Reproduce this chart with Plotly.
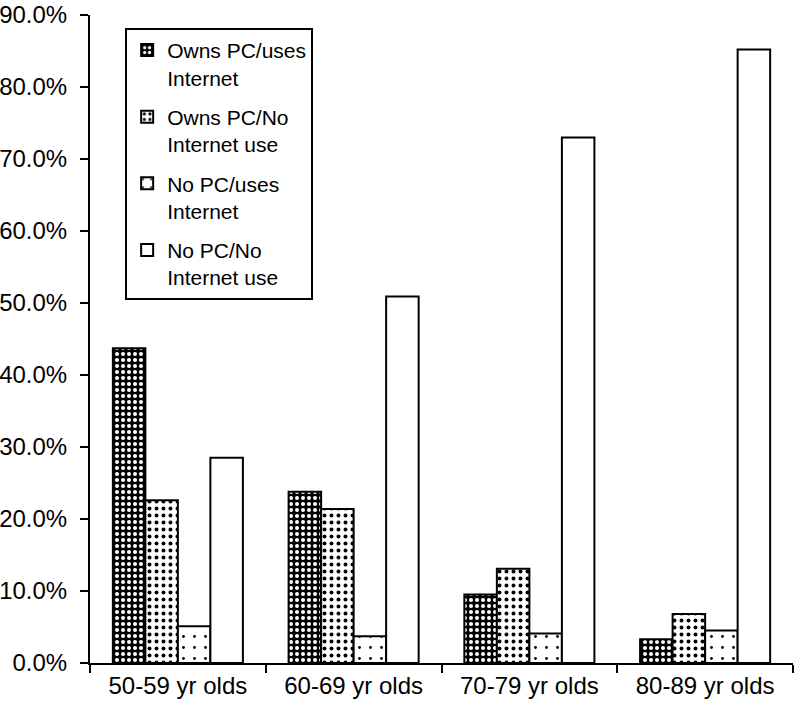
import plotly.graph_objects as go

categories = ["50-59 yr olds", "60-69 yr olds", "70-79 yr olds", "80-89 yr olds"]
series_names = ["Owns PC/uses<br>Internet", "Owns PC/No<br>Internet use",
                "No PC/uses<br>Internet", "No PC/No<br>Internet use"]
owns_pc_uses_internet = [0.437, 0.238, 0.095, 0.033]
owns_pc_no_internet = [0.226, 0.214, 0.131, 0.068]
no_pc_uses_internet = [0.051, 0.037, 0.041, 0.045]
no_pc_no_internet = [0.285, 0.509, 0.730, 0.852]
y_ticks = [0.0, 0.1, 0.2, 0.3, 0.4, 0.5, 0.6, 0.7, 0.8, 0.9]

values = [owns_pc_uses_internet, owns_pc_no_internet, no_pc_uses_internet, no_pc_no_internet]
styles = [
    dict(color="black", pattern=dict(shape=".", fgcolor="white", bgcolor="black", size=6, solidity=0.35, fillmode="replace")),
    dict(color="white", pattern=dict(shape=".", fgcolor="black", bgcolor="white", size=7, solidity=0.25, fillmode="replace")),
    dict(color="white", pattern=dict(shape=".", fgcolor="black", bgcolor="white", size=11, solidity=0.05, fillmode="replace")),
    dict(color="white"),
]

fig = go.Figure()
for i, (name, vals, st) in enumerate(zip(series_names, values, styles)):
    marker = dict(line=dict(color="black", width=2), **st)
    fig.add_trace(go.Bar(x=categories, y=vals, name=name, marker=marker,
                         legendgroup=f"g{i}", hoverinfo="skip"))

fig.update_layout(
    width=796, height=705,
    margin=dict(l=90, r=3, t=15, b=42, autoexpand=False),
    paper_bgcolor="white", plot_bgcolor="white",
    font=dict(family="Liberation Sans, Arial, sans-serif", size=24, color="black"),
    barmode="group", bargap=0.26, bargroupgap=0,
    showlegend=True,
    legend=dict(x=0.05, y=0.98, xanchor="left", yanchor="top",
                bordercolor="black", borderwidth=2, bgcolor="white",
                traceorder="grouped", tracegroupgap=9, valign="top",
                font=dict(size=21)),
)
fig.update_xaxes(showline=True, linecolor="black", linewidth=2,
                 ticks="outside", ticklen=8, tickwidth=2, tickcolor="black",
                 tickson="boundaries", showgrid=False, zeroline=False,
                 automargin=False, tickfont=dict(size=24))
fig.update_yaxes(range=[0, 0.9], tickvals=y_ticks, tickformat=".1%",
                 showline=True, linecolor="black", linewidth=2,
                 ticks="outside", ticklen=8, tickwidth=2, tickcolor="black",
                 showgrid=False, zeroline=False, automargin=False,
                 ticklabelstandoff=8, tickfont=dict(size=24))

fig.write_html("out.html", config={"displayModeBar": False},
               post_script="document.body.style.margin='0';document.body.style.overflow='hidden';")
